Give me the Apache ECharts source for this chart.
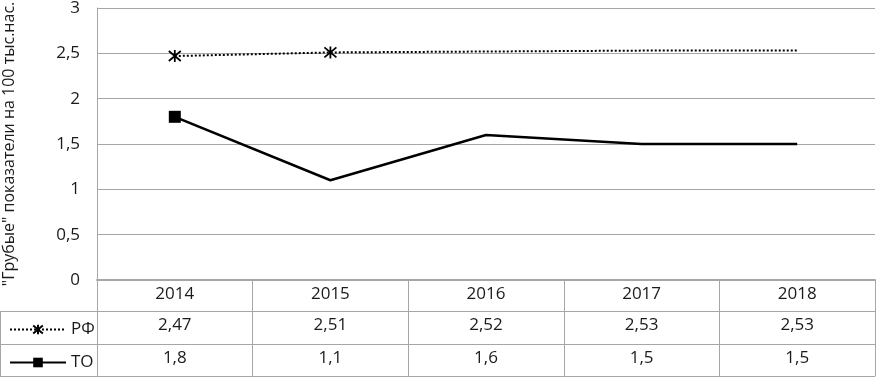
<!DOCTYPE html>
<html>
<head>
<meta charset="utf-8">
<script src="https://cdn.jsdelivr.net/npm/echarts@6/dist/echarts.min.js"></script>
<style>
  html, body { margin: 0; padding: 0; background: #fff; }
  #chart { width: 877px; height: 377px; }
</style>
</head>
<body>
<div id="chart"></div>
<script>
// данные
var years = ['2014', '2015', '2016', '2017', '2018'];
var rfValues = [2.47, 2.51, 2.52, 2.53, 2.53];
var toValues = [1.8, 1.1, 1.6, 1.5, 1.5];
var yTicks = [0, 0.5, 1, 1.5, 2, 2.5, 3];
var yTitle = '"Грубые" показатели на 100 тыс.нас.';

function comma(v) { return String(v).replace('.', ','); }

var FONT = '"Open Sans", "Noto Sans", sans-serif';
var GRID = '#a6a6a6';
var TXT = '#1a1a1a';

// звездочка (Ж)
var starPath = 'path://M0,0L10,10M10,0L0,10M5,-1L5,11';

var myChart = echarts.init(document.getElementById('chart'));

// в оригинале маркеры только у первых точек
var rfData = rfValues.map(function (v, i) {
  return i < 2 ? { value: v } : { value: v, symbol: 'none' };
});
var toData = toValues.map(function (v, i) {
  return i < 1 ? { value: v } : { value: v, symbol: 'none' };
});

function tableAxis(data, offset, showLabel) {
  return {
    type: 'category',
    position: 'bottom',
    offset: offset,
    data: data,
    boundaryGap: true,
    axisLine: { show: true, lineStyle: { color: GRID, width: 1 } },
    axisTick: { show: false },
    axisLabel: {
      show: showLabel,
      interval: 0,
      color: TXT,
      fontFamily: FONT,
      fontSize: 17,
      margin: 6
    }
  };
}

var option = {
  animation: false,
  textStyle: { fontFamily: FONT },
  grid: { left: 97, right: 2, top: 8, bottom: 97, containLabel: false, outerBoundsMode: 'none' },
  legend: [
    {
      data: ['РФ'],
      left: 4, top: 316,
      itemWidth: 56, itemHeight: 12, itemGap: 4,
      textStyle: { color: TXT, fontSize: 17, fontFamily: FONT }
    },
    {
      data: ['ТО'],
      left: 4, top: 349,
      itemWidth: 56, itemHeight: 12, itemGap: 4,
      textStyle: { color: TXT, fontSize: 17, fontFamily: FONT }
    }
  ],
  xAxis: [
    {
      type: 'category',
      position: 'bottom',
      data: years,
      boundaryGap: true,
      axisLine: { show: true, lineStyle: { color: GRID, width: 2 } },
      axisTick: { show: true, length: 96, interval: 0, lineStyle: { color: GRID, width: 1 } },
      axisLabel: { interval: 0, color: TXT, fontFamily: FONT, fontSize: 17, margin: 6 }
    },
    tableAxis(rfValues.map(comma), 31, true),
    tableAxis(toValues.map(comma), 64, true),
    tableAxis(years, 96, false)
  ],
  yAxis: {
    type: 'value',
    min: 0,
    max: 3,
    interval: 0.5,
    name: yTitle,
    nameLocation: 'middle',
    nameRotate: 90,
    nameGap: 80,
    nameTextStyle: { color: TXT, fontSize: 16, fontFamily: FONT },
    axisLine: { show: true, lineStyle: { color: GRID, width: 1 } },
    axisTick: { show: false },
    splitLine: { show: true, lineStyle: { color: GRID, width: 1 } },
    axisLabel: {
      color: TXT,
      fontFamily: FONT,
      fontSize: 17,
      margin: 17,
      formatter: function (v) { return yTicks.indexOf(v) >= 0 ? comma(v) : ''; }
    }
  },
  series: [
    {
      name: 'РФ',
      type: 'line',
      data: rfData,
      symbol: starPath,
      symbolSize: 12,
      showAllSymbol: true,
      lineStyle: { color: '#000', width: 2, type: [2, 2] },
      itemStyle: { color: 'rgba(0,0,0,0)', borderColor: '#000', borderWidth: 1.8 },
      z: 3
    },
    {
      name: 'ТО',
      type: 'line',
      data: toData,
      symbol: 'rect',
      symbolSize: 12,
      showAllSymbol: true,
      lineStyle: { color: '#000', width: 2.5 },
      itemStyle: { color: '#000' },
      z: 3
    }
  ],
  graphic: [
    // левая колонка таблицы (легенда)
    { type: 'line', shape: { x1: 0, y1: 311.5, x2: 97, y2: 311.5 }, style: { stroke: GRID, lineWidth: 1 } },
    { type: 'line', shape: { x1: 0, y1: 344.5, x2: 97, y2: 344.5 }, style: { stroke: GRID, lineWidth: 1 } },
    { type: 'line', shape: { x1: 0, y1: 376.5, x2: 97, y2: 376.5 }, style: { stroke: GRID, lineWidth: 1 } },
    { type: 'line', shape: { x1: 0.5, y1: 311, x2: 0.5, y2: 377 }, style: { stroke: GRID, lineWidth: 1 } }
  ]
};

myChart.setOption(option);
</script>
</body>
</html>
